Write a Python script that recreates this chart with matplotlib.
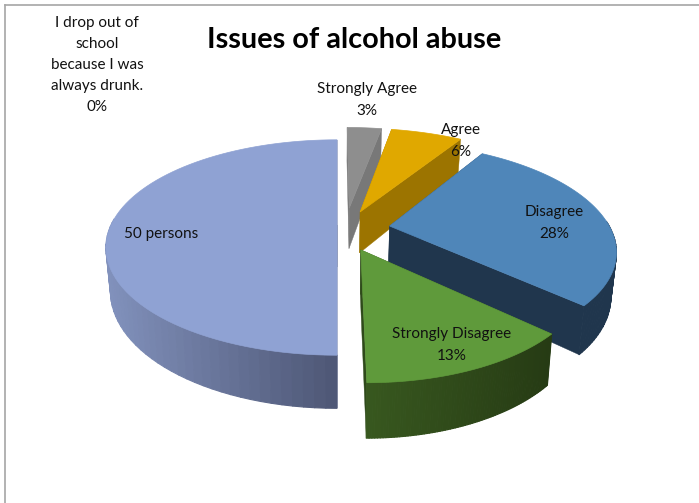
import numpy as np
import matplotlib
matplotlib.use('Agg')
import matplotlib.pyplot as plt
from matplotlib.collections import PolyCollection
from matplotlib.colors import to_rgb

plt.rcParams['font.family'] = ['Lato', 'DejaVu Sans']

categories = ['Strongly Agree', 'Agree', 'Disagree', 'Strongly Disagree', '50 persons',
              'I drop out of\nschool\nbecause I was\nalways drunk.']
values = [3, 6, 28, 13, 50, 0]
show_percent = [True, True, True, True, False, True]

# how far each slice is pulled out of the pie, in disc units
explode_u = [0.056, 0.105, 0.232, 0.10, 0.0, 0.0]
explode_v = [-0.17, -0.13, 0.01, 0.23, 0.0, 0.0]
radius = [1.01, 1.04, 0.97, 0.93, 1.0, 1.0]

top_colors = ['#8e8e8e', '#e0a800', '#4f86b9', '#5f9a3b', '#8fa2d3', '#bbbbbb']
cut_colors = ['#787878', '#9c7400', '#20364d', '#2f4a1b', '#5f6b8f', '#888888']
wall_left = ['#7a7a7a', '#9c7400', '#20364d', '#38581f', '#8292bd', '#888888']
wall_right = ['#7a7a7a', '#9c7400', '#20364d', '#263b14', '#4f5877', '#888888']

label_x = [367, 461, 554, 452, 161, 97]
label_y = [100, 141, 223, 345, 234, 65]
draw_order = [0, 1, 2, 4, 3]

# perspective of the pie on the page
CX, CY = 337, 225
A, B = 226, 103
P = 0.209
H = 42


def project(u, v, drop=0.0):
    s = 1 / (1 - P * v)
    x = CX + A * u * s * (1 - 0.02 * drop)
    y = CY + B * v * s + drop * H * s
    return np.column_stack([x, y])


fig = plt.figure(figsize=(6.99, 5.03), dpi=100)
ax = fig.add_axes([0, 0, 1, 1])
ax.set_xlim(0, 699)
ax.set_ylim(503, 0)
ax.axis('off')

# chart frame
ax.plot([5, 5], [503, 5], color='#a6a6a6', lw=1.2)
ax.plot([5, 699], [5, 5], color='#a6a6a6', lw=1.2)

total = sum(values)
edges = np.cumsum([0] + values) / total * 2 * np.pi

z = 2
for i in draw_order:
    theta = np.linspace(edges[i], edges[i + 1], 80)
    u0, v0 = explode_u[i], explode_v[i]
    u = u0 + radius[i] * np.sin(theta)
    v = v0 - radius[i] * np.cos(theta)
    apex_u, apex_v = np.array([u0]), np.array([v0])

    # cut faces first, the rim and the top cover whatever faces away
    for end in (0, -1):
        uu = np.array([u0, u[end]])
        vv = np.array([v0, v[end]])
        quad = np.vstack([project(uu, vv), project(uu, vv, 1)[::-1]])
        ax.fill(quad[:, 0], quad[:, 1], color=cut_colors[i], lw=0.3, zorder=z)

    # rim, shaded strip by strip; only the part turned towards the viewer
    a = project(u, v)
    b = project(u, v, 1)
    x_span = a[:, 0].max() - a[:, 0].min()
    polys, cols = [], []
    for k in np.argsort(v[:-1]):
        if -np.cos(theta[k]) < -0.05:
            continue
        polys.append([a[k], a[k + 1], b[k + 1], b[k]])
        t = (a[k, 0] - a[:, 0].min()) / x_span
        cols.append(np.array(to_rgb(wall_left[i])) * (1 - t) + np.array(to_rgb(wall_right[i])) * t)
    ax.add_collection(PolyCollection(polys, facecolors=cols, edgecolors=cols, linewidths=0.8,
                                     zorder=z + 0.1))

    top = np.vstack([project(apex_u, apex_v), a])
    ax.fill(top[:, 0], top[:, 1], color=top_colors[i], lw=0.5, zorder=z + 0.2)
    z += 1

for i, name in enumerate(categories):
    txt = name + '\n%d%%' % values[i] if show_percent[i] else name
    ax.text(label_x[i], label_y[i], txt, ha='center', va='center', fontsize=11,
            color='#111111', linespacing=1.65, zorder=20)

ax.text(354, 40, 'Issues of alcohol abuse', ha='center', va='center', fontsize=20.8,
        fontweight='bold', color='black', zorder=20)

fig.savefig('out.png', dpi=100)
